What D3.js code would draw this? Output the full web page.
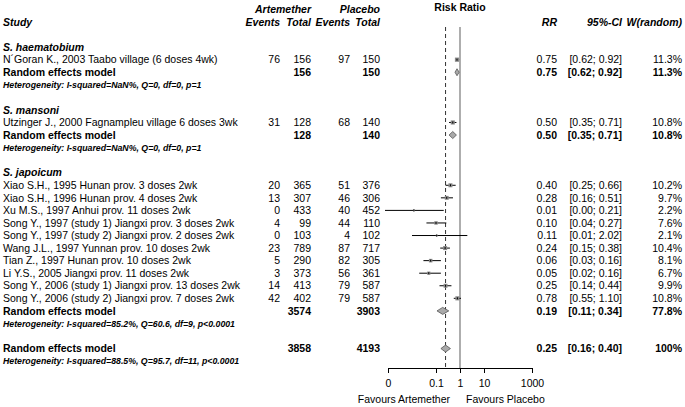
<!DOCTYPE html>
<html>
<head>
<meta charset="utf-8">
<script src="https://cdn.jsdelivr.net/npm/d3@7"></script>
<style>
  body { margin: 0; background: #fff; }
  svg { font-family: "Liberation Sans", Arial, Helvetica, sans-serif; }
</style>
</head>
<body>
<div id="chart"></div>
<script>
// ---------------- data ----------------
var groups = ["S. haematobium", "S. mansoni", "S. japoicum"];
var studyNames = [
  "N\u00B4Goran K., 2003 Taabo village (6 doses 4wk)",
  "Utzinger J., 2000 Fagnampleu village 6 doses 3wk",
  "Xiao S.H., 1995 Hunan prov. 3 doses 2wk",
  "Xiao S.H., 1996 Hunan prov. 4 doses 2wk",
  "Xu M.S., 1997 Anhui prov. 11 doses 2wk",
  "Song Y., 1997 (study 1) Jiangxi prov. 3 doses 2wk",
  "Song Y., 1997 (study 2) Jiangxi prov. 2 doses 2wk",
  "Wang J.L., 1997 Yunnan prov. 10 doses 2wk",
  "Tian Z., 1997 Hunan prov. 10 doses 2wk",
  "Li Y.S., 2005 Jiangxi prov. 11 doses 2wk",
  "Song Y., 2006 (study 1) Jiangxi prov. 13 doses 2wk",
  "Song Y., 2006 (study 2) Jiangxi prov. 7 doses 2wk"
];
var studyGroup = [0, 1, 2, 2, 2, 2, 2, 2, 2, 2, 2, 2];
var artEvents = [76, 31, 20, 13, 0, 4, 0, 23, 5, 3, 14, 42];
var artTotal  = [156, 128, 365, 307, 433, 99, 103, 789, 290, 373, 413, 402];
var plaEvents = [97, 68, 51, 46, 40, 44, 4, 87, 82, 56, 79, 79];
var plaTotal  = [150, 140, 376, 306, 452, 110, 102, 717, 305, 361, 587, 587];
var rr        = [0.75, 0.50, 0.40, 0.28, 0.012, 0.10, 0.107, 0.24, 0.06, 0.05, 0.25, 0.78];
var lower     = [0.62, 0.35, 0.25, 0.16, 0.00075, 0.04, 0.01, 0.15, 0.03, 0.02, 0.14, 0.55];
var upper     = [0.92, 0.71, 0.66, 0.51, 0.21, 0.27, 2.02, 0.38, 0.16, 0.16, 0.44, 1.10];
var weight    = [11.3, 10.8, 10.2, 9.7, 2.2, 7.6, 2.1, 10.4, 8.1, 6.7, 9.9, 10.8];

var subArtTotal = [156, 128, 3574];
var subPlaTotal = [150, 140, 3903];
var subRR     = [0.75, 0.50, 0.19];
var subLower  = [0.62, 0.35, 0.11];
var subUpper  = [0.92, 0.71, 0.34];
var subWeight = [11.3, 10.8, 77.8];
var subHet = [
  "Heterogeneity: I-squared=NaN%, Q=0, df=0, p=1",
  "Heterogeneity: I-squared=NaN%, Q=0, df=0, p=1",
  "Heterogeneity: I-squared=85.2%, Q=60.6, df=9, p<0.0001"
];

var allArtTotal = 3858, allPlaTotal = 4193;
var allRR = 0.25, allLower = 0.16, allUpper = 0.40, allWeight = 100;
var allHet = "Heterogeneity: I-squared=88.5%, Q=95.7, df=11, p<0.0001";

var xTicks = [0.001, 0.1, 1, 10, 1000];
var xTickLabels = ["0", "0.1", "1", "10", "1000"];

// ---------------- layout ----------------
var width = 685, height = 407;
var rowH = 12.56, row0 = 22;
var fs = 10.5, fsHet = 8.75;
var x = d3.scaleLog().domain([0.001, 1000]).range([388, 532]);
function rowY(r) { return row0 + r * rowH; }

var col = { study: 3, aEv: 280, aTot: 311, pEv: 350, pTot: 380, rr: 557, ci: 622, w: 682 };
var f2 = d3.format(".2f");
function ciText(l, u) { return "[" + f2(l) + "; " + f2(u) + "]"; }
function wText(w) { return w === 100 ? "100%" : w.toFixed(1) + "%"; }

var svg = d3.select("#chart").append("svg")
  .attr("width", width).attr("height", height);
svg.append("rect").attr("width", width).attr("height", height).attr("fill", "#fff");

function txt(xp, r, s, opt) {
  opt = opt || {};
  return svg.append("text")
    .attr("x", xp)
    .attr("y", typeof r === "number" ? rowY(r) : r.y)
    .attr("dy", "0.35em")
    .attr("text-anchor", opt.anchor || "start")
    .attr("font-size", opt.size || fs)
    .attr("font-weight", opt.bold ? "bold" : "normal")
    .attr("font-style", opt.italic ? "italic" : "normal")
    .attr("fill", "#000")
    .text(s);
}

// headers
txt(460, { y: 7 }, "Risk Ratio", { anchor: "middle", bold: true });
txt(col.aTot, { y: 9 }, "Artemether", { anchor: "end", bold: true, italic: true });
txt(col.pTot, { y: 9 }, "Placebo", { anchor: "end", bold: true, italic: true });
txt(col.study, 0, "Study", { bold: true, italic: true });
txt(col.aEv, 0, "Events", { anchor: "end", bold: true, italic: true });
txt(col.aTot, 0, "Total", { anchor: "end", bold: true, italic: true });
txt(col.pEv, 0, "Events", { anchor: "end", bold: true, italic: true });
txt(col.pTot, 0, "Total", { anchor: "end", bold: true, italic: true });
txt(col.rr, 0, "RR", { anchor: "end", bold: true, italic: true });
txt(col.ci, 0, "95%-CI", { anchor: "end", bold: true, italic: true });
txt(col.w, 0, "W(random)", { anchor: "end", bold: true, italic: true });

// reference lines
var plotTop = 27, plotBottom = 368;
svg.append("line")
  .attr("x1", x(1)).attr("x2", x(1)).attr("y1", plotTop).attr("y2", plotBottom)
  .attr("stroke", "#777").attr("stroke-width", 1.2);
svg.append("line")
  .attr("x1", x(allRR)).attr("x2", x(allRR)).attr("y1", plotTop).attr("y2", plotBottom)
  .attr("stroke", "#333").attr("stroke-width", 1).attr("stroke-dasharray", "4,3");

function studyMark(r, est, l, u, w) {
  var y = rowY(r);
  svg.append("line")
    .attr("x1", x(l)).attr("x2", x(u)).attr("y1", y).attr("y2", y)
    .attr("stroke", "#000").attr("stroke-width", 1);
  var s = 1.25 * Math.sqrt(w);
  svg.append("rect")
    .attr("x", x(est) - s / 2).attr("y", y - s / 2)
    .attr("width", s).attr("height", s)
    .attr("fill", "#888").attr("stroke", "none");
  svg.append("line")
    .attr("x1", x(est)).attr("x2", x(est)).attr("y1", y - 1).attr("y2", y + 1)
    .attr("stroke", "#000").attr("stroke-width", 1);
}

function diamond(r, est, l, u) {
  var y = rowY(r), h = 3.5;
  svg.append("path")
    .attr("d", "M" + x(l) + "," + y + "L" + x(est) + "," + (y - h) +
               "L" + x(u) + "," + y + "L" + x(est) + "," + (y + h) + "Z")
    .attr("fill", "#aaa").attr("stroke", "#555").attr("stroke-width", 0.8);
}

// rows
var r = 2;
groups.forEach(function(g, gi) {
  txt(col.study, r, g, { bold: true, italic: true });
  r++;
  studyNames.forEach(function(name, i) {
    if (studyGroup[i] !== gi) return;
    txt(col.study, r, name);
    txt(col.aEv, r, artEvents[i], { anchor: "end" });
    txt(col.aTot, r, artTotal[i], { anchor: "end" });
    txt(col.pEv, r, plaEvents[i], { anchor: "end" });
    txt(col.pTot, r, plaTotal[i], { anchor: "end" });
    txt(col.rr, r, f2(rr[i]), { anchor: "end" });
    txt(col.ci, r, ciText(lower[i], upper[i]), { anchor: "end" });
    txt(col.w, r, wText(weight[i]), { anchor: "end" });
    studyMark(r, rr[i], lower[i], upper[i], weight[i]);
    r++;
  });
  txt(col.study, r, "Random effects model", { bold: true });
  txt(col.aTot, r, subArtTotal[gi], { anchor: "end", bold: true });
  txt(col.pTot, r, subPlaTotal[gi], { anchor: "end", bold: true });
  txt(col.rr, r, f2(subRR[gi]), { anchor: "end", bold: true });
  txt(col.ci, r, ciText(subLower[gi], subUpper[gi]), { anchor: "end", bold: true });
  txt(col.w, r, wText(subWeight[gi]), { anchor: "end", bold: true });
  diamond(r, subRR[gi], subLower[gi], subUpper[gi]);
  r++;
  txt(col.study, r, subHet[gi], { bold: true, italic: true, size: fsHet });
  r += 2;
});

// overall
txt(col.study, r, "Random effects model", { bold: true });
txt(col.aTot, r, allArtTotal, { anchor: "end", bold: true });
txt(col.pTot, r, allPlaTotal, { anchor: "end", bold: true });
txt(col.rr, r, f2(allRR), { anchor: "end", bold: true });
txt(col.ci, r, ciText(allLower, allUpper), { anchor: "end", bold: true });
txt(col.w, r, wText(allWeight), { anchor: "end", bold: true });
diamond(r, allRR, allLower, allUpper);
r++;
txt(col.study, r, allHet, { bold: true, italic: true, size: fsHet });

// axis
var axis = d3.axisBottom(x)
  .tickValues(xTicks)
  .tickFormat(function(d, i) { return xTickLabels[i]; })
  .tickSize(5)
  .tickSizeOuter(0);
var ax = svg.append("g")
  .attr("transform", "translate(0," + plotBottom + ")")
  .call(axis);
ax.select(".domain").attr("stroke", "#000");
ax.selectAll(".tick line").attr("stroke", "#000");
ax.selectAll(".tick text")
  .attr("font-size", fs)
  .attr("font-family", "Liberation Sans, Arial, sans-serif")
  .attr("fill", "#000")
  .attr("y", 12);

txt(450, { y: 399 }, "Favours Artemether", { anchor: "end" });
txt(466, { y: 399 }, "Favours Placebo", { anchor: "start" });
</script>
</body>
</html>
